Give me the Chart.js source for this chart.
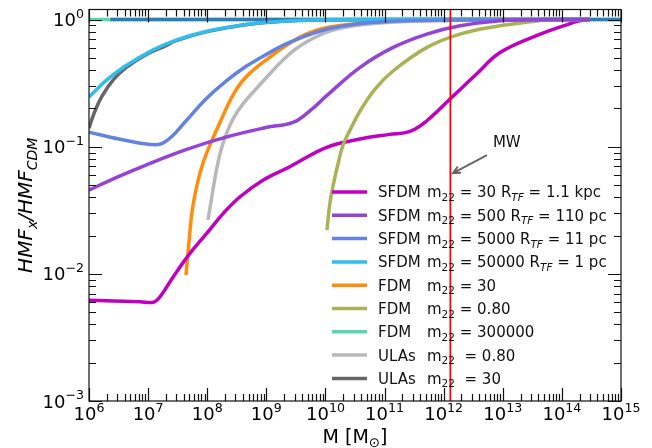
<!DOCTYPE html>
<html>
<head>
<meta charset="utf-8">
<script src="https://cdn.jsdelivr.net/npm/chart.js@4.4.1/dist/chart.umd.min.js"></script>
<style>
  html, body { margin: 0; padding: 0; background: #fff; }
  canvas { display: block; }
</style>
</head>
<body>
<canvas id="hmfChart" width="652" height="448"></canvas>
<script>
// halo masses [Msun] and HMF_x / HMF_CDM
const sfdm30M = [1e6, 7.3e6, 1.22e7, 1.59e7, 2.67e7, 5.1e7, 9.8e7, 1.87e8, 3.6e8, 8.9e8, 2.5e9, 1.05e10, 3.85e10, 1.2e11, 2.7e11, 5.2e11, 1.28e12, 3.6e12, 9e12, 3.8e13, 1.38e14, 2e14, 3e14];
const sfdm30R = [0.0062, 0.00604, 0.00598, 0.0066, 0.0095, 0.0145, 0.0208, 0.0299, 0.0404, 0.0547, 0.0696, 0.0989, 0.115, 0.125, 0.132, 0.160, 0.237, 0.373, 0.55, 0.75, 0.93, 0.98, 1.0];

const sfdm500M = [1e6, 3e6, 9.2e6, 4.38e7, 2.08e8, 9.86e8, 2.83e9, 5.5e9, 1.05e10, 3.85e10, 1.4e11, 5.2e11, 1.9e12, 9e12, 5e13, 3e14];
const sfdm500R = [0.0456, 0.0577, 0.0718, 0.095, 0.119, 0.1415, 0.1555, 0.192, 0.252, 0.421, 0.604, 0.769, 0.893, 0.98, 1.0, 1.0];

const sfdm5000M = [1e6, 3.2e6, 1.36e7, 2.25e7, 4.4e7, 9.5e7, 2.08e8, 4.5e8, 9.86e8, 2.51e9, 1.19e10, 8.4e10, 1.28e12, 3e14];
const sfdm5000R = [0.13, 0.115, 0.1036, 0.115, 0.16, 0.237, 0.328, 0.427, 0.53, 0.665, 0.85, 0.956, 0.99, 1.0];

const sfdm50000M = [1e6, 2e6, 4.2e6, 1.2e7, 2.97e7, 9.5e7, 3.07e8, 9.86e8, 1e10, 3e14];
const sfdm50000R = [0.246, 0.335, 0.433, 0.575, 0.69, 0.805, 0.889, 0.951, 0.997, 1.0];

const fdm30M = [4.38e7, 4.92e7, 5.53e7, 6.72e7, 8.49e7, 1.11e8, 1.65e8, 2.73e8, 4.53e8, 9.86e8, 3.72e9, 1.19e10, 8.4e10, 1.28e12, 3e14];
const fdm30R = [0.0098, 0.0178, 0.0306, 0.050, 0.0745, 0.103, 0.156, 0.255, 0.353, 0.48, 0.728, 0.873, 0.955, 1.0, 1.0];

const fdm080M = [1.06e10, 1.19e10, 1.4e10, 1.63e10, 1.98e10, 2.6e10, 3.85e10, 6.9e10, 1.39e11, 5.22e11, 1.89e12, 8.97e12, 2.89e13, 6.3e13, 3e14];
const fdm080R = [0.0221, 0.0361, 0.0537, 0.0731, 0.103, 0.135, 0.191, 0.284, 0.394, 0.604, 0.769, 0.894, 0.96, 1.0, 1.0];

const fdm300000M = [1e6, 1e15];
const fdm300000R = [1.0, 1.0];

const ulas080M = [1.03e8, 1.21e8, 1.41e8, 1.71e8, 2.16e8, 2.84e8, 4.03e8, 6.43e8, 9.86e8, 1.91e9, 3.72e9, 1.19e10, 8.4e10, 1.28e12, 1e13, 3e14];
const ulas080R = [0.0265, 0.0417, 0.0632, 0.0941, 0.130, 0.171, 0.217, 0.279, 0.347, 0.48, 0.619, 0.812, 0.939, 0.982, 1.0, 1.0];

const ulas30M = [1e6, 1.26e6, 1.66e6, 2.55e6, 4.23e6, 9.2e6, 2.01e7, 2.97e7, 9.5e7, 3.07e8, 9.86e8, 1e10, 3e14];
const ulas30R = [0.14, 0.191, 0.25, 0.334, 0.419, 0.53, 0.624, 0.683, 0.80, 0.886, 0.947, 0.995, 1.0];

// CDM reference (ratio = 1)
const cdmM = [2.3e6, 1e15];
const cdmR = [1.0, 1.0];

// Milky Way mass and its annotation
const mwMass = 1.3e12;
const mwLabelPos = [1.17e13, 0.107];
const mwArrowTail = [5.4e12, 0.086];
const mwArrowHead = [1.44e12, 0.062];

const xDecades = [6, 7, 8, 9, 10, 11, 12, 13, 14, 15];
const yDecades = [-3, -2, -1, 0];

const models = ['SFDM', 'SFDM', 'SFDM', 'SFDM', 'FDM', 'FDM', 'FDM', 'ULAs', 'ULAs'];
const params = [
  'm_{22} = 30 R_{TF} = 1.1 kpc',
  'm_{22} = 500 R_{TF} = 110 pc',
  'm_{22} = 5000 R_{TF} = 11 pc',
  'm_{22} = 50000 R_{TF} = 1 pc',
  'm_{22} = 30',
  'm_{22} = 0.80',
  'm_{22} = 300000',
  'm_{22}  = 0.80',
  'm_{22}  = 30'
];
const colors = ['#c000c0', '#9343d6', '#6482e2', '#2ebdee', '#ff8c0a', '#a9b255', '#55d8aa', '#b8b8b8', '#666666'];
const seriesM = [sfdm30M, sfdm500M, sfdm5000M, sfdm50000M, fdm30M, fdm080M, fdm300000M, ulas080M, ulas30M];
const seriesR = [sfdm30R, sfdm500R, sfdm5000R, sfdm50000R, fdm30R, fdm080R, fdm300000R, ulas080R, ulas30R];
// stacking: lower = drawn on top
const layer = [5, 0, 1, 2, 7, 4, 9, 6, 3];

const FONT = '"DejaVu Sans", sans-serif';

function pairs(ms, rs) {
  return ms.map((m, i) => ({ x: m, y: rs[i] }));
}

const datasets = models.map((name, i) => ({
  label: name + ' ' + params[i],
  data: pairs(seriesM[i], seriesR[i]),
  borderColor: colors[i],
  borderWidth: 3.5,
  pointRadius: 0,
  fill: false,
  tension: 0.4,
  order: layer[i]
}));
datasets.push({
  label: 'CDM',
  data: pairs(cdmM, cdmR),
  borderColor: '#2e7bb8',
  borderWidth: 3.5,
  pointRadius: 0,
  order: 8
});
datasets.push({
  label: 'MW',
  data: [{ x: mwMass, y: 1e-3 }, { x: mwMass, y: 1.2 }],
  borderColor: '#ff0000',
  borderWidth: 1.8,
  pointRadius: 0,
  order: -1
});

// simple mathtext: _{..} subscript, ^{..} superscript
function parseRich(text) {
  const parts = [];
  const re = /([_^])\{([^}]*)\}|[^_^]+/g;
  let m;
  while ((m = re.exec(text))) {
    if (m[1]) parts.push({ t: m[2], kind: m[1] });
    else parts.push({ t: m[0], kind: '' });
  }
  return parts;
}
function fontFor(p, size, italic) {
  const s = p.kind ? size * 0.7 : size;
  const it = italic || (p.kind === '_' && /^[A-Za-z]+$/.test(p.t));
  return (it ? 'italic ' : '') + s.toFixed(1) + 'px ' + FONT;
}
function drawRich(ctx, text, x, y, size, align, italic) {
  const parts = parseRich(text);
  let w = 0;
  for (const p of parts) { ctx.font = fontFor(p, size, italic); w += ctx.measureText(p.t).width; }
  let cx = align === 'center' ? x - w / 2 : align === 'right' ? x - w : x;
  ctx.textAlign = 'left';
  ctx.textBaseline = 'alphabetic';
  for (const p of parts) {
    ctx.font = fontFor(p, size, italic);
    let dy = 0;
    if (p.kind === '_') dy = size * 0.24;
    if (p.kind === '^') dy = -size * 0.45;
    ctx.fillText(p.t, cx, y + dy);
    cx += ctx.measureText(p.t).width;
  }
}

const decorations = {
  id: 'decorations',
  beforeDraw(chart) {
    const ctx = chart.ctx;
    ctx.save();
    ctx.fillStyle = '#fff';
    ctx.fillRect(0, 0, chart.width, chart.height);
    ctx.restore();
  },
  afterDatasetsDraw(chart) {
    const { ctx, chartArea: a, scales: { x, y } } = chart;
    ctx.save();
    ctx.strokeStyle = '#111';
    ctx.lineWidth = 1.2;

    // inward ticks on all four sides
    const xTick = (v, len) => {
      const px = Math.round(x.getPixelForValue(v)) + 0.5;
      ctx.beginPath();
      ctx.moveTo(px, a.bottom); ctx.lineTo(px, a.bottom - len);
      ctx.moveTo(px, a.top); ctx.lineTo(px, a.top + len);
      ctx.stroke();
    };
    const yTick = (v, len) => {
      const py = Math.round(y.getPixelForValue(v)) + 0.5;
      ctx.beginPath();
      ctx.moveTo(a.left, py); ctx.lineTo(a.left + len, py);
      ctx.moveTo(a.right, py); ctx.lineTo(a.right - len, py);
      ctx.stroke();
    };
    xDecades.forEach(d => {
      xTick(Math.pow(10, d), 13);
      if (d < 15) for (let k = 2; k <= 9; k++) xTick(k * Math.pow(10, d), 7);
    });
    yDecades.forEach(d => {
      yTick(Math.pow(10, d), 13);
      if (d < 0) for (let k = 2; k <= 9; k++) yTick(k * Math.pow(10, d), 7);
    });
    ctx.strokeRect(a.left, a.top, a.right - a.left, a.bottom - a.top);

    // tick labels
    ctx.fillStyle = '#000';
    xDecades.forEach(d => {
      drawRich(ctx, '10^{' + d + '}', x.getPixelForValue(Math.pow(10, d)), a.bottom + 19, 18, 'center');
    });
    yDecades.forEach(d => {
      const s = d < 0 ? '\u2212' + (-d) : String(d);
      drawRich(ctx, '10^{' + s + '}', a.left - 5, y.getPixelForValue(Math.pow(10, d)) + 6.5, 18, 'right');
    });

    // axis titles
    drawRich(ctx, 'M [M_{\u2299}]', (a.left + a.right) / 2, 442.5, 19, 'center');
    ctx.save();
    ctx.translate(32, (a.top + a.bottom) / 2);
    ctx.rotate(-Math.PI / 2);
    drawRich(ctx, 'HMF_{x}/HMF_{CDM}', 0, 0, 20, 'center', true);
    ctx.restore();

    // MW annotation
    const tx = x.getPixelForValue(mwArrowTail[0]), ty = y.getPixelForValue(mwArrowTail[1]);
    const hx = x.getPixelForValue(mwArrowHead[0]), hy = y.getPixelForValue(mwArrowHead[1]);
    ctx.strokeStyle = '#666';
    ctx.lineWidth = 2;
    ctx.beginPath();
    ctx.moveTo(tx, ty); ctx.lineTo(hx, hy);
    const ang = Math.atan2(hy - ty, hx - tx);
    ctx.moveTo(hx - 8 * Math.cos(ang - 0.45), hy - 8 * Math.sin(ang - 0.45));
    ctx.lineTo(hx, hy);
    ctx.lineTo(hx - 8 * Math.cos(ang + 0.45), hy - 8 * Math.sin(ang + 0.45));
    ctx.stroke();
    ctx.fillStyle = '#111';
    ctx.font = '15px ' + FONT;
    ctx.textAlign = 'center';
    ctx.textBaseline = 'middle';
    ctx.fillText('MW', x.getPixelForValue(mwLabelPos[0]), y.getPixelForValue(mwLabelPos[1]));

    // legend
    models.forEach((name, i) => {
      const ry = 192 + i * 23.3;
      ctx.strokeStyle = colors[i];
      ctx.lineWidth = 3.5;
      ctx.beginPath();
      ctx.moveTo(332, ry); ctx.lineTo(367, ry);
      ctx.stroke();
      ctx.fillStyle = '#111';
      drawRich(ctx, name, 378, ry + 5.4, 15, 'left');
      drawRich(ctx, params[i], 427, ry + 5.4, 15, 'left');
    });
    ctx.restore();
  }
};

new Chart(document.getElementById('hmfChart'), {
  type: 'line',
  data: { datasets: datasets },
  options: {
    responsive: false,
    animation: false,
    layout: { padding: { left: 89, right: 31, top: 9.5, bottom: 47 } },
    plugins: { legend: { display: false }, tooltip: { enabled: false } },
    scales: {
      x: { type: 'logarithmic', min: 1e6, max: 1e15, display: false },
      y: { type: 'logarithmic', min: 1e-3, max: 1.2, display: false }
    }
  },
  plugins: [decorations]
});
</script>
</body>
</html>
